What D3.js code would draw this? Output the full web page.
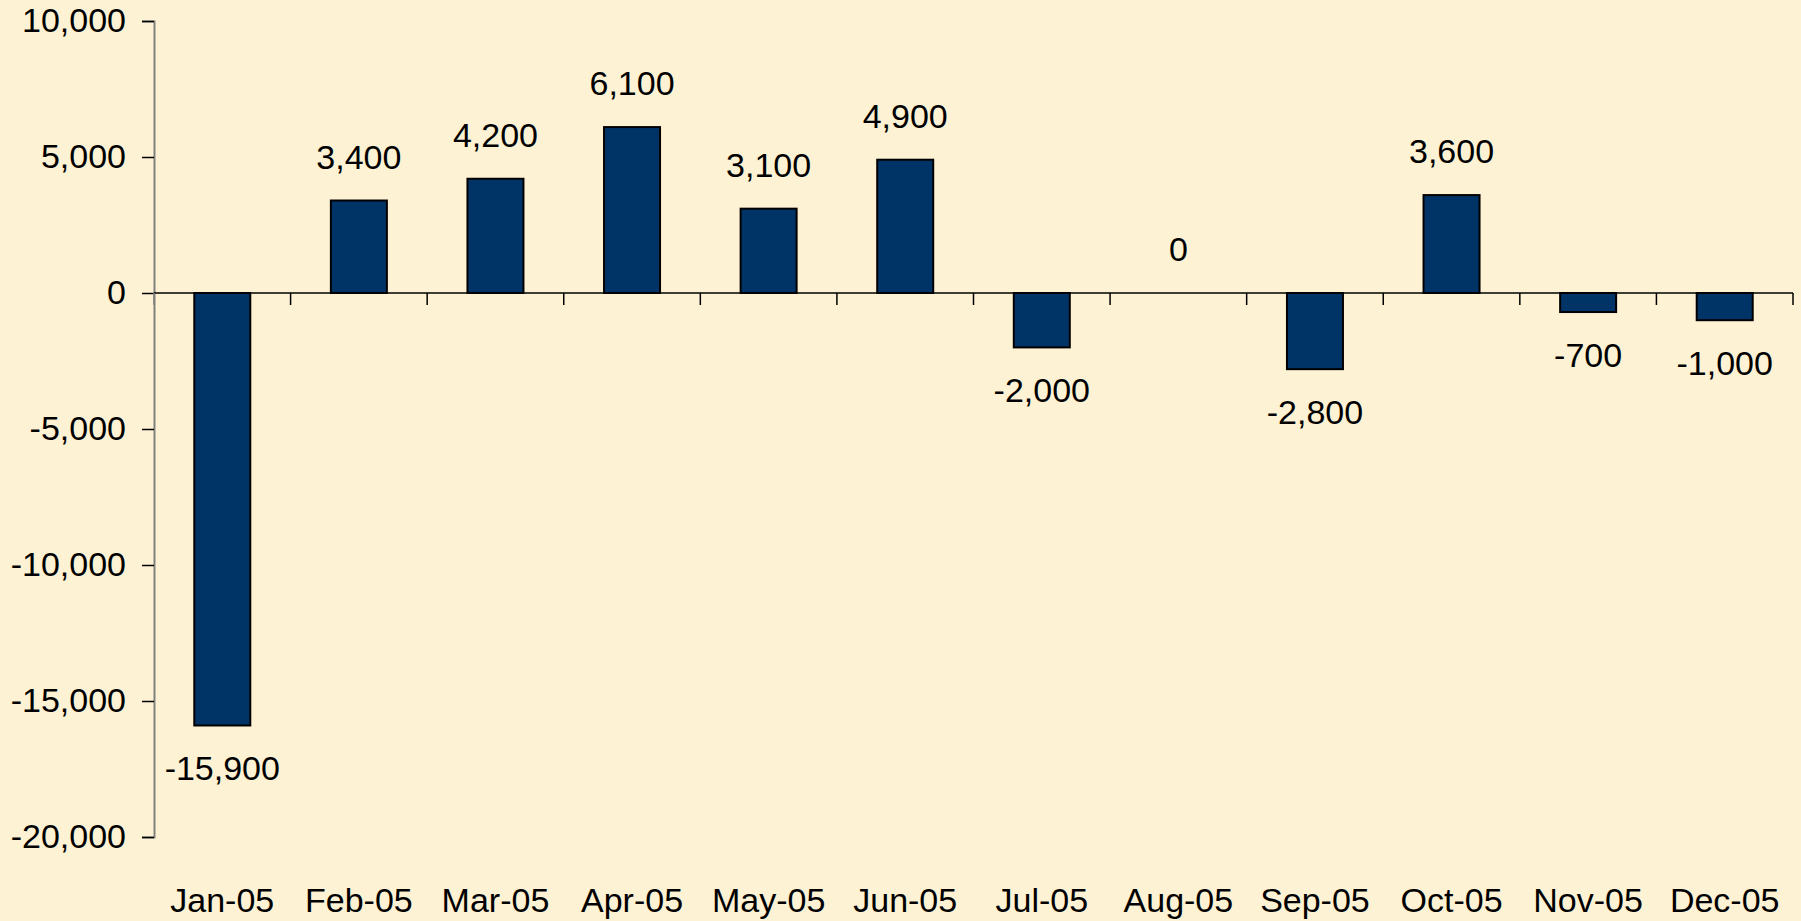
<!DOCTYPE html>
<html>
<head>
<meta charset="utf-8">
<script src="https://cdn.jsdelivr.net/npm/d3@7"></script>
<style>
body { margin: 0; background: #fdf2d3; }
svg { display: block; font-family: "Liberation Sans", Arial, sans-serif; }
</style>
</head>
<body>
<script>
var width = 1801;
var height = 921;
var months = ["Jan-05", "Feb-05", "Mar-05", "Apr-05", "May-05", "Jun-05",
    "Jul-05", "Aug-05", "Sep-05", "Oct-05", "Nov-05", "Dec-05"];
var values = [-15900, 3400, 4200, 6100, 3100, 4900, -2000, 0, -2800, 3600, -700, -1000];
var yTicks = [10000, 5000, 0, -5000, -10000, -15000, -20000];
var comma = d3.format(",");
var fmt = d => comma(d).replace("\u2212", "-");
var fontSize = 34;

var x = d3.scaleBand().domain(months).range([154, 1793]).paddingInner(0.59).paddingOuter(0.295);
var band = d3.scaleBand().domain(months).range([154, 1793]);
var y = d3.scaleLinear().domain([-20000, 10000]).range([837, 21]);

var svg = d3.select("body").append("svg")
    .attr("width", width)
    .attr("height", height)
;

// y axis
var yAxis = svg.append("g")
    .attr("transform", "translate(154,0)")
    .call(d3.axisLeft(y).tickValues(yTicks).tickSize(12).tickPadding(16).tickFormat(fmt))
;
yAxis.select(".domain").attr("stroke", "#808080").attr("stroke-width", 2);
yAxis.selectAll(".tick line").attr("stroke", "#000").attr("stroke-width", 1.5);
yAxis.selectAll("text").attr("font-size", fontSize).attr("fill", "#000")
    .attr("font-family", "Liberation Sans, Arial, sans-serif");

// bars
svg.append("g").selectAll("rect")
    .data(values)
    .enter().append("rect")
    .attr("x", (d, i) => x(months[i]))
    .attr("width", x.bandwidth())
    .attr("y", d => y(Math.max(0, d)))
    .attr("height", d => Math.abs(y(d) - y(0)))
    .attr("fill", "#003366")
    .attr("stroke", "#000")
    .attr("stroke-width", 2)
;

// zero line with category ticks
svg.append("line")
    .attr("x1", 154).attr("x2", 1793)
    .attr("y1", y(0)).attr("y2", y(0))
    .attr("stroke", "#000").attr("stroke-width", 1.5)
;
svg.append("g").selectAll("line")
    .data(months.concat(["end"]))
    .enter().append("line")
    .attr("x1", (d, i) => 154 + i * band.bandwidth())
    .attr("x2", (d, i) => 154 + i * band.bandwidth())
    .attr("y1", y(0))
    .attr("y2", y(0) + 12)
    .attr("stroke", (d, i) => i == 0 ? "#808080" : "#000")
    .attr("stroke-width", 1.5)
;

// value labels
svg.append("g").selectAll("text")
    .data(values)
    .enter().append("text")
    .attr("x", (d, i) => band(months[i]) + band.bandwidth() / 2)
    .attr("y", d => d >= 0 ? y(d) - 32 : y(d) + 55)
    .attr("text-anchor", "middle")
    .attr("font-size", fontSize)
    .text(d => fmt(d))
;

// month labels
svg.append("g").selectAll("text")
    .data(months)
    .enter().append("text")
    .attr("x", d => band(d) + band.bandwidth() / 2)
    .attr("y", 912)
    .attr("text-anchor", "middle")
    .attr("font-size", fontSize)
    .text(d => d)
;
</script>
</body>
</html>
